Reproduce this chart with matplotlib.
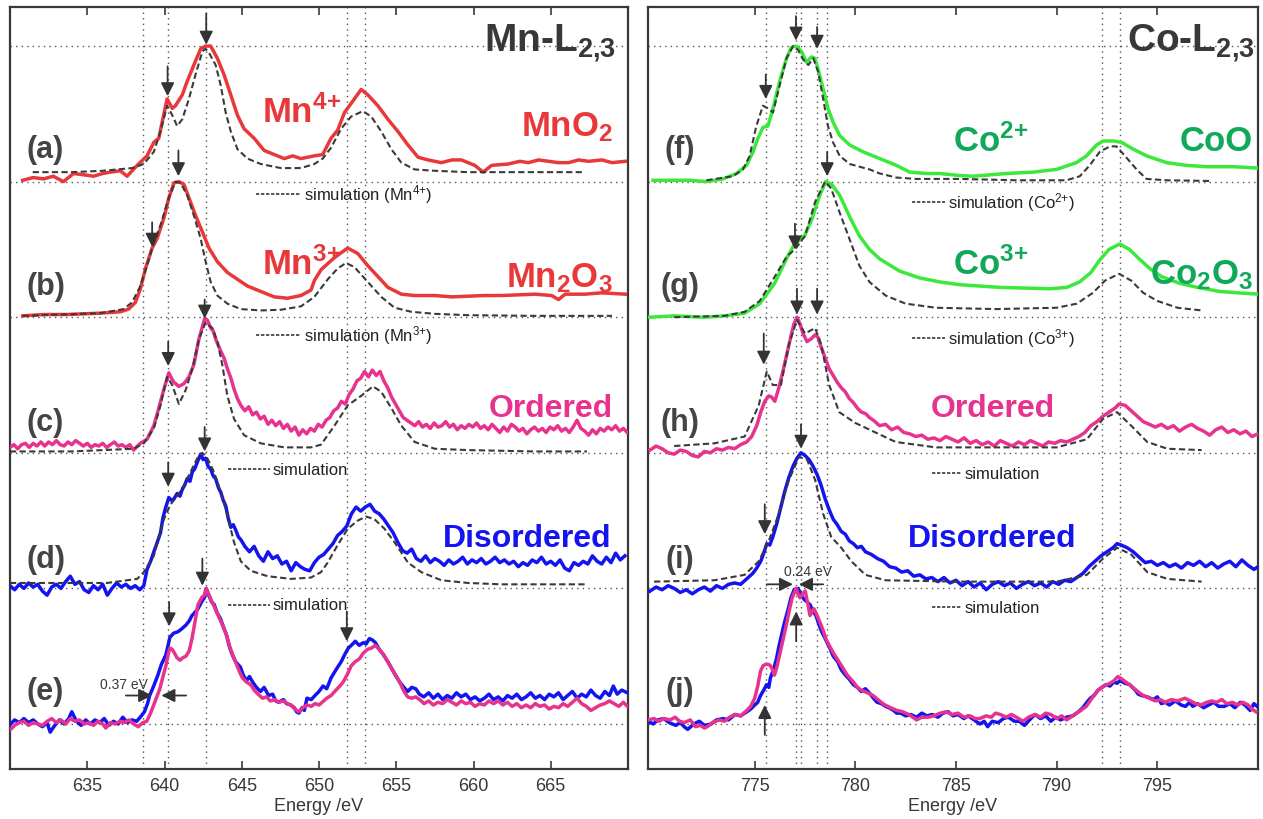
import numpy as np
import matplotlib.pyplot as plt

plt.rcParams['font.family'] = ['Liberation Sans', 'DejaVu Sans']
plt.rcParams['mathtext.fontset'] = 'custom'
plt.rcParams['mathtext.rm'] = 'Liberation Sans'
plt.rcParams['mathtext.bf'] = 'Liberation Sans:bold'
plt.rcParams['mathtext.it'] = 'Liberation Sans:italic'
plt.rcParams['mathtext.sf'] = 'Liberation Sans'

# ---------------- Mn L2,3 (left) ----------------
# (a) MnO2
mn_a_x = [630.82, 631.5, 632.17, 632.8, 633.46, 634.11, 634.8, 635.41, 636.0, 636.49, 637.14, 637.58,
          638.23, 638.87, 639.31, 639.63, 639.85, 640.17, 640.5, 640.71, 641.15, 641.47, 641.9, 642.34,
          642.66, 642.99, 643.42, 643.85, 644.29, 644.72, 645.15, 645.8, 646.45, 647.1, 647.75, 648.3,
          648.83, 649.7, 650.24, 650.78, 651.21, 651.65, 652.29, 652.73, 653.16, 653.81, 654.46, 655.11,
          655.76, 656.41, 657.06, 657.92, 658.6, 659.22, 660.08, 660.63, 661.17, 662.25, 663.0, 663.55,
          664.2, 664.85, 665.5, 666.15, 666.8, 667.45, 668.31, 668.96, 669.83]
mn_a_y = [0.01, 0.03, 0.02, 0.04, 0.0, 0.06, 0.05, 0.04, 0.06, 0.07, 0.08, 0.04,
          0.12, 0.19, 0.29, 0.32, 0.44, 0.61, 0.54, 0.56, 0.64, 0.74, 0.86, 0.98,
          1.0, 1.0, 0.91, 0.79, 0.64, 0.49, 0.39, 0.32, 0.23, 0.2, 0.17, 0.19,
          0.17, 0.19, 0.2, 0.32, 0.38, 0.51, 0.61, 0.68, 0.64, 0.56, 0.46, 0.37,
          0.27, 0.18, 0.16, 0.14, 0.16, 0.16, 0.12, 0.07, 0.12, 0.13, 0.15, 0.14,
          0.16, 0.15, 0.14, 0.14, 0.16, 0.15, 0.16, 0.14, 0.15]
mn_a_sim_x = [631.47, 634.0, 636.0, 637.9, 638.66, 639.31, 639.74, 640.17, 640.5, 640.82, 641.15,
              641.58, 642.01, 642.45, 642.66, 642.88, 643.31, 643.64, 643.96, 644.29, 644.72, 645.37,
              646.23, 647.53, 648.83, 649.7, 650.24, 650.78, 651.43, 652.08, 652.84, 653.38, 654.03,
              654.68, 655.33, 656.19, 657.49, 659.65, 661.82, 663.98, 667.01]
mn_a_sim_y = [0.07, 0.07, 0.08, 0.1, 0.13, 0.22, 0.37, 0.56, 0.49, 0.41, 0.46,
              0.61, 0.79, 0.96, 0.98, 0.95, 0.86, 0.71, 0.51, 0.37, 0.24, 0.17,
              0.13, 0.1, 0.1, 0.13, 0.17, 0.25, 0.39, 0.48, 0.52, 0.48, 0.37,
              0.24, 0.14, 0.09, 0.08, 0.07, 0.07, 0.07, 0.07]

# (b) Mn2O3
mn_b_x = [630.82, 632.2, 633.68, 635.84, 637.14, 637.68, 638.12, 638.44, 638.77, 639.2, 639.52, 639.96,
          640.28, 640.61, 640.93, 641.26, 641.58, 642.01, 642.45, 642.88, 643.42, 644.07, 644.72, 645.37,
          646.23, 647.1, 647.97, 648.83, 649.48, 649.7, 650.13, 651.0, 651.86, 652.51, 653.16, 653.81,
          654.46, 655.33, 656.19, 657.49, 658.6, 659.65, 660.7, 661.82, 662.9, 663.98, 665.06, 665.5,
          665.93, 667.23, 668.31, 669.83]
mn_b_y = [0.01, 0.02, 0.02, 0.03, 0.04, 0.06, 0.11, 0.21, 0.36, 0.51, 0.58, 0.73,
          0.88, 0.99, 1.0, 0.98, 0.88, 0.75, 0.63, 0.51, 0.41, 0.33, 0.28, 0.23,
          0.19, 0.15, 0.14, 0.16, 0.2, 0.27, 0.35, 0.44, 0.51, 0.47, 0.38, 0.3,
          0.22, 0.17, 0.16, 0.16, 0.15, 0.155, 0.16, 0.16, 0.165, 0.17, 0.16, 0.13,
          0.17, 0.17, 0.18, 0.17]
mn_b_sim_x = [630.82, 635.84, 637.36, 637.9, 638.44, 638.87, 639.2, 639.74, 640.28, 640.71, 641.04,
              641.47, 641.9, 642.34, 642.66, 642.99, 643.42, 644.07, 644.94, 646.23, 647.53, 648.83,
              649.7, 650.57, 651.21, 651.75, 652.29, 653.16, 654.03, 654.89, 655.98, 657.49, 659.65,
              663.98, 668.96]
mn_b_sim_y = [0.01, 0.03, 0.06, 0.11, 0.23, 0.38, 0.51, 0.68, 0.88, 1.0, 0.99,
              0.9, 0.75, 0.58, 0.41, 0.26, 0.16, 0.1, 0.06, 0.05, 0.055, 0.08,
              0.15, 0.28, 0.36, 0.4, 0.37, 0.26, 0.15, 0.07, 0.04, 0.025, 0.015,
              0.01, 0.01]

# (c) ordered (Mn)
mn_c_x = [630.0, 630.25, 630.5, 630.75, 631.0, 631.25, 631.5, 631.75, 632.0, 632.25, 632.5, 632.75,
          633.0, 633.25, 633.5, 633.75, 634.0, 634.25, 634.5, 634.75, 635.0, 635.25, 635.5, 635.75,
          636.0, 636.25, 636.5, 636.75, 637.0, 637.25, 637.5, 637.75, 638.0, 638.25,
          638.44, 638.87, 639.31, 639.63, 639.96, 640.28, 640.45, 640.61, 640.93, 641.26, 641.58, 641.9,
          642.23, 642.6, 642.77, 642.99, 643.15, 643.31, 643.64, 643.85, 644.07, 644.3, 644.5, 644.72,
          644.94, 645.2, 645.45, 645.7, 645.95, 646.2, 646.45, 646.7, 646.95, 647.2, 647.45, 647.7,
          647.95, 648.2, 648.45, 648.7, 648.95, 649.2, 649.45, 649.7, 649.95, 650.2, 650.45, 650.7,
          650.95, 651.2, 651.45, 651.7, 651.95, 652.2, 652.45, 652.7, 652.95, 653.2, 653.45, 653.7,
          653.95, 654.2, 654.45, 654.7, 654.95, 655.2, 655.45, 655.7, 655.95, 656.2, 656.45, 656.7,
          656.95, 657.2, 657.45, 657.7, 657.95, 658.2, 658.45, 658.7, 658.95, 659.2, 659.45, 659.7,
          659.95, 660.2, 660.45, 660.7, 660.95, 661.2, 661.45, 661.7, 661.95, 662.2, 662.45, 662.7,
          662.95, 663.2, 663.45, 663.7, 663.95, 664.2, 664.45, 664.7, 664.95, 665.2, 665.45, 665.7,
          665.95, 666.2, 666.45, 666.7, 666.95, 667.2, 667.45, 667.7, 667.95, 668.2, 668.45, 668.7,
          668.95, 669.2, 669.45, 669.7, 669.95]
mn_c_y = [0.04, 0.06, 0.03, 0.06, 0.07, 0.04, 0.07, 0.05, 0.08, 0.05, 0.08, 0.06,
          0.09, 0.06, 0.05, 0.08, 0.06, 0.09, 0.07, 0.05, 0.07, 0.04, 0.06, 0.05,
          0.07, 0.04, 0.06, 0.08, 0.05, 0.06, 0.04, 0.06, 0.02, 0.05,
          0.07, 0.1, 0.2, 0.33, 0.47, 0.59, 0.55, 0.52, 0.49, 0.51, 0.56, 0.65,
          0.84, 0.99, 0.98, 0.92, 0.9, 0.84, 0.75, 0.7, 0.62, 0.55, 0.47, 0.4,
          0.35, 0.31, 0.34, 0.28, 0.3, 0.25, 0.27, 0.21, 0.24, 0.2, 0.23, 0.18,
          0.21, 0.16, 0.19, 0.13, 0.17, 0.14, 0.18, 0.16, 0.21, 0.19, 0.24, 0.26,
          0.31, 0.33, 0.38, 0.36, 0.43, 0.47, 0.53, 0.55, 0.6, 0.56, 0.61, 0.57,
          0.6, 0.53, 0.48, 0.41, 0.36, 0.31, 0.26, 0.24, 0.22, 0.2, 0.23, 0.19,
          0.21, 0.18, 0.22, 0.19, 0.2, 0.23, 0.19, 0.21, 0.17, 0.2, 0.18, 0.21,
          0.19, 0.22, 0.18, 0.2, 0.17, 0.21, 0.18, 0.15, 0.19, 0.16, 0.21, 0.19,
          0.16, 0.18, 0.14, 0.17, 0.19, 0.16, 0.18, 0.15, 0.19, 0.17, 0.2, 0.16,
          0.18, 0.15, 0.19, 0.24, 0.18, 0.16, 0.13, 0.17, 0.14, 0.18, 0.16, 0.19,
          0.17, 0.2, 0.16, 0.18, 0.15]
mn_c_sim_x = [630.0, 634.0, 638.01, 638.66, 639.31, 639.74, 640.17, 640.5, 640.93, 641.36, 641.8,
              642.23, 642.66, 643.1, 643.42, 643.74, 644.07, 644.5, 645.15, 646.23, 647.75, 649.48,
              650.13, 651.0, 651.86, 652.73, 653.49, 654.03, 654.68, 655.33, 656.19, 657.49, 659.65,
              663.98, 667.34]
mn_c_sim_y = [0.01, 0.01, 0.03, 0.07, 0.18, 0.35, 0.56, 0.5, 0.36, 0.46, 0.62,
              0.84, 0.96, 0.92, 0.82, 0.65, 0.42, 0.25, 0.13, 0.07, 0.04, 0.04,
              0.06, 0.2, 0.35, 0.42, 0.49, 0.45, 0.33, 0.2, 0.08, 0.03, 0.02,
              0.01, 0.01]

# (d) disordered (Mn)
mn_d_x = [630.0, 630.3, 630.6, 630.9, 631.2, 631.5, 631.8, 632.1, 632.4, 632.7, 633.0, 633.3,
          633.6, 633.9, 634.2, 634.5, 634.8, 635.1, 635.4, 635.7, 636.0, 636.3, 636.6, 636.9,
          637.2, 637.5, 637.8, 638.1, 638.4, 638.66,
          638.87, 639.1, 639.31, 639.5, 639.74, 639.9, 640.06, 640.28, 640.45, 640.61, 640.82, 641.0,
          641.15, 641.3, 641.47, 641.65, 641.8, 641.95, 642.12, 642.34, 642.5, 642.66, 642.82, 642.99,
          643.15, 643.31, 643.5, 643.64, 643.8, 643.96, 644.12, 644.29, 644.45, 644.61, 644.78, 644.94,
          645.2, 645.5, 645.8, 646.1, 646.4, 646.7, 647.0, 647.3, 647.6, 647.9, 648.2, 648.5,
          648.8, 649.1, 649.4, 649.7, 650.0, 650.3, 650.6, 650.9, 651.2, 651.5, 651.8, 652.1,
          652.4, 652.7, 653.0, 653.3, 653.6, 653.9, 654.2, 654.5, 654.8, 655.1, 655.4, 655.7,
          656.0, 656.3, 656.6, 656.9, 657.2, 657.5, 657.8, 658.1, 658.4, 658.7, 659.0, 659.3,
          659.6, 659.9, 660.2, 660.5, 660.8, 661.1, 661.4, 661.7, 662.0, 662.3, 662.6, 662.9,
          663.2, 663.5, 663.8, 664.1, 664.4, 664.7, 665.0, 665.3, 665.6, 665.9, 666.2, 666.5,
          666.8, 667.1, 667.4, 667.7, 668.0, 668.3, 668.6, 668.9, 669.2, 669.5, 669.8]
mn_d_y = [0.02, -0.01, 0.03, 0.0, 0.04, 0.01, 0.03, -0.02, -0.05, 0.01, 0.03, 0.0,
          0.05, 0.09, 0.03, 0.05, -0.01, -0.03, 0.02, -0.01, 0.03, -0.05, 0.0, 0.04,
          0.01, 0.03, 0.0, 0.02, -0.01, 0.02,
          0.14, 0.2, 0.27, 0.33, 0.41, 0.52, 0.59, 0.67, 0.65, 0.66, 0.7, 0.68,
          0.73, 0.76, 0.81, 0.79, 0.86, 0.88, 0.93, 0.99, 0.95, 0.96, 0.9, 0.88,
          0.83, 0.81, 0.74, 0.71, 0.65, 0.61, 0.52, 0.45, 0.47, 0.43, 0.38, 0.36,
          0.31, 0.27, 0.31, 0.24, 0.2, 0.27, 0.22, 0.24, 0.18, 0.2, 0.13, 0.19,
          0.16, 0.14, 0.13, 0.19, 0.23, 0.25, 0.29, 0.33, 0.39, 0.42, 0.46, 0.55,
          0.6, 0.57, 0.6, 0.62, 0.57, 0.55, 0.51, 0.46, 0.41, 0.34, 0.28, 0.26,
          0.29, 0.22, 0.2, 0.24, 0.19, 0.22, 0.2, 0.17, 0.21, 0.18, 0.2, 0.23,
          0.18, 0.21, 0.19, 0.22, 0.18, 0.2, 0.23, 0.19, 0.21, 0.18, 0.2, 0.16,
          0.19, 0.17, 0.21, 0.19, 0.23, 0.18, 0.2, 0.17, 0.21, 0.15, 0.13, 0.19,
          0.17, 0.2, 0.18, 0.24, 0.2, 0.18, 0.23, 0.19, 0.26, 0.21, 0.24]
mn_d_sim_x = [630.0, 636.28, 638.23, 638.66, 639.31, 639.96, 640.39, 640.82, 641.26, 641.69, 642.12,
              642.45, 642.77, 643.2, 643.64, 644.07, 644.5, 644.94, 645.58, 646.67, 648.18, 649.48,
              650.13, 650.56, 651.21, 651.86, 652.51, 653.05, 653.59, 654.24, 654.89, 655.76, 656.62,
              657.92, 659.65, 661.82, 667.34]
mn_d_sim_y = [0.04, 0.04, 0.07, 0.12, 0.24, 0.51, 0.62, 0.68, 0.76, 0.86, 0.96,
              1.0, 0.96, 0.86, 0.71, 0.54, 0.34, 0.2, 0.13, 0.09, 0.07, 0.08,
              0.12, 0.19, 0.32, 0.44, 0.5, 0.53, 0.51, 0.44, 0.34, 0.19, 0.12,
              0.06, 0.04, 0.03, 0.03]

# (e) disordered vs ordered (Mn)
mn_e_dis_x = [630.04, 630.3, 630.6, 630.9, 631.2, 631.5, 631.8, 632.1, 632.4, 632.6, 632.9, 633.2,
              633.5, 633.8, 634.0, 634.3, 634.6, 634.9, 635.2, 635.5, 635.8, 636.1, 636.4, 636.7,
              637.0, 637.3, 637.6, 637.9, 638.2, 638.5, 638.7,
              638.9, 639.04, 639.3, 639.57, 639.8, 640.09, 640.35, 640.6, 640.87, 641.1, 641.39, 641.6,
              641.78, 641.95, 642.17, 642.4, 642.57, 642.7, 642.9, 643.05, 643.22, 643.4, 643.61, 643.8,
              644.0, 644.2, 644.39, 644.6, 644.75, 644.91, 645.1, 645.31, 645.5, 645.7, 645.95, 646.22,
              646.45, 646.74, 647.0, 647.2, 647.39, 647.7, 647.9, 648.17, 648.4, 648.55, 648.7, 648.9,
              649.05, 649.22, 649.5, 649.74, 650.0, 650.26, 650.5, 650.78, 651.1, 651.44, 651.7, 651.9,
              652.09, 652.35, 652.6, 652.87, 653.05, 653.26, 653.45, 653.65, 653.9, 654.18, 654.45, 654.7,
              654.95, 655.22, 655.5, 655.74, 656.0, 656.26, 656.5, 656.78,
              657.1, 657.4, 657.7, 658.0, 658.3, 658.6, 658.9, 659.2, 659.5, 659.8, 660.1, 660.4,
              660.7, 661.0, 661.3, 661.6, 661.9, 662.2, 662.5, 662.8, 663.1, 663.4, 663.7, 664.0,
              664.3, 664.6, 664.9, 665.2, 665.5, 665.8, 666.1, 666.4, 666.7, 667.0, 667.3, 667.6,
              667.9, 668.2, 668.5, 668.8, 669.05, 669.3, 669.6, 669.96]
mn_e_dis_y = [0.0, 0.03, 0.01, 0.04, 0.01, 0.03, 0.0, -0.02, 0.01, -0.06, -0.01, 0.03,
              0.0, 0.04, 0.09, 0.02, -0.01, 0.03, 0.0, 0.03, 0.01, 0.04, -0.01, 0.02,
              0.0, 0.05, 0.01, 0.03, 0.02, 0.06, 0.09,
              0.15, 0.21, 0.28, 0.36, 0.44, 0.51, 0.64, 0.67, 0.68, 0.7, 0.73, 0.76,
              0.8, 0.82, 0.85, 0.9, 0.93, 1.0, 0.94, 0.9, 0.88, 0.82, 0.78, 0.72,
              0.66, 0.57, 0.51, 0.46, 0.44, 0.42, 0.36, 0.32, 0.35, 0.31, 0.27, 0.24,
              0.27, 0.21, 0.22, 0.17, 0.16, 0.18, 0.15, 0.14, 0.12, 0.09, 0.08, 0.12,
              0.1, 0.19, 0.18, 0.21, 0.24, 0.28, 0.26, 0.34, 0.4, 0.46, 0.52, 0.56,
              0.58, 0.61, 0.58, 0.6, 0.59, 0.63, 0.62, 0.6, 0.55, 0.51, 0.46, 0.41,
              0.36, 0.31, 0.27, 0.24, 0.27, 0.26, 0.22, 0.2,
              0.23, 0.19, 0.22, 0.18, 0.21, 0.19, 0.23, 0.2, 0.22, 0.18, 0.2, 0.17,
              0.19, 0.22, 0.18, 0.2, 0.17, 0.21, 0.19, 0.22, 0.18, 0.2, 0.23, 0.19,
              0.21, 0.18, 0.22, 0.2, 0.23, 0.18, 0.21, 0.24, 0.19, 0.22, 0.2, 0.25,
              0.21, 0.19, 0.24, 0.21, 0.28, 0.22, 0.25, 0.23]
mn_e_ord_x = [630.04, 630.3, 630.6, 630.9, 631.2, 631.5, 631.8, 632.1, 632.4, 632.7, 633.0, 633.3,
              633.6, 633.9, 634.2, 634.5, 634.8, 635.1, 635.4, 635.7, 636.0, 636.2, 636.5, 636.8,
              637.1, 637.4, 637.7, 638.0, 638.3, 638.6, 638.85, 639.1,
              639.3, 639.5, 639.7, 639.9, 640.09, 640.25, 640.35, 640.5, 640.61, 640.8, 641.0, 641.2,
              641.39, 641.6, 641.78, 641.95, 642.17, 642.4, 642.57, 642.7, 642.85, 642.96, 643.2, 643.48,
              643.75, 644.0, 644.25, 644.52, 644.8, 645.04, 645.3, 645.57, 645.8, 646.05, 646.35, 646.6,
              646.85, 647.13, 647.4, 647.7, 647.95, 648.17, 648.45, 648.7, 648.95, 649.22, 649.5, 649.75,
              650.0, 650.3, 650.5, 650.78, 651.1, 651.35, 651.57, 651.85, 652.09, 652.35, 652.61, 652.85,
              653.13, 653.4, 653.65, 653.9, 654.18, 654.45, 654.7, 654.95, 655.22, 655.5, 655.74, 656.0,
              656.25, 656.52,
              656.8, 657.1, 657.4, 657.7, 658.0, 658.3, 658.6, 658.9, 659.2, 659.5, 659.8, 660.1,
              660.4, 660.7, 661.0, 661.3, 661.6, 661.9, 662.2, 662.5, 662.8, 663.1, 663.4, 663.7,
              664.0, 664.3, 664.6, 664.9, 665.2, 665.5, 665.8, 666.1, 666.4, 666.7, 667.0, 667.3,
              667.6, 667.9, 668.2, 668.5, 668.8, 669.1, 669.4, 669.7, 669.96]
mn_e_ord_y = [-0.04, -0.01, 0.01, 0.02, -0.01, 0.01, 0.0, -0.01, 0.02, 0.04, 0.01, 0.03,
              0.0, 0.04, 0.02, 0.03, 0.0, 0.01, -0.01, 0.02, 0.0, -0.03, 0.01, 0.0,
              0.02, 0.01, 0.03, 0.0, -0.02, 0.01, 0.02, 0.08,
              0.14, 0.2, 0.26, 0.35, 0.43, 0.52, 0.56, 0.55, 0.53, 0.49, 0.47, 0.49,
              0.5, 0.54, 0.63, 0.74, 0.88, 0.93, 0.95, 1.0, 0.96, 0.93, 0.87, 0.8,
              0.73, 0.66, 0.56, 0.48, 0.4, 0.34, 0.31, 0.29, 0.25, 0.22, 0.19, 0.2,
              0.17, 0.18, 0.16, 0.17, 0.15, 0.14, 0.11, 0.09, 0.12, 0.14, 0.13, 0.15,
              0.14, 0.17, 0.19, 0.21, 0.25, 0.28, 0.31, 0.37, 0.43, 0.46, 0.48, 0.52,
              0.55, 0.56, 0.58, 0.55, 0.51, 0.46, 0.41, 0.36, 0.31, 0.24, 0.2, 0.19,
              0.2, 0.18,
              0.15, 0.17, 0.14, 0.16, 0.15, 0.18, 0.16, 0.14, 0.17, 0.15, 0.16, 0.13,
              0.15, 0.14, 0.17, 0.15, 0.17, 0.14, 0.16, 0.13, 0.15, 0.12, 0.14, 0.12,
              0.15, 0.13, 0.14, 0.11, 0.13, 0.12, 0.15, 0.13, 0.16, 0.19, 0.15, 0.13,
              0.1, 0.12, 0.14, 0.15, 0.17, 0.15, 0.13, 0.16, 0.13]

# ---------------- Co L2,3 (right) ----------------
# (f) CoO
co_f_x = [769.95, 770.94, 771.77, 772.6, 773.43, 774.09, 774.59, 774.92, 775.16, 775.41, 775.66, 775.91,
          776.24, 776.58, 776.82, 777.07, 777.32, 777.57, 777.82, 777.98, 778.15, 778.39, 778.64, 778.89,
          779.22, 779.72, 780.38, 781.21, 782.04, 782.7, 783.53, 784.19, 785.18, 785.85, 787.5, 788.83,
          789.99, 790.98, 791.48, 791.98, 792.31, 792.81, 793.22, 793.8, 794.47, 795.46, 796.45, 797.45,
          798.77, 800.0]
co_f_y = [0.01, 0.01, 0.01, 0.0, 0.02, 0.06, 0.12, 0.22, 0.32, 0.4, 0.41, 0.54,
          0.74, 0.91, 0.99, 1.0, 0.96, 0.88, 0.92, 0.91, 0.83, 0.69, 0.54, 0.44,
          0.34, 0.27, 0.22, 0.17, 0.12, 0.07, 0.06, 0.06, 0.045, 0.04, 0.06, 0.07,
          0.09, 0.14, 0.19, 0.27, 0.3, 0.3, 0.29, 0.24, 0.19, 0.14, 0.12, 0.11,
          0.11, 0.1]
co_f_sim_x = [772.6, 773.92, 774.42, 774.75, 775.08, 775.41, 775.66, 775.91, 776.24, 776.58, 776.91,
              777.16, 777.41, 777.66, 777.91, 778.15, 778.39, 778.64, 778.89, 779.22, 779.72, 780.21,
              780.71, 781.21, 782.04, 783.03, 785.18, 788.0, 790.48, 791.15, 791.64, 792.14, 792.64,
              792.97, 793.39, 793.97, 794.46, 795.46, 797.61]
co_f_sim_y = [0.01, 0.04, 0.09, 0.19, 0.41, 0.56, 0.54, 0.51, 0.71, 0.91, 1.0,
              0.97, 0.9, 0.86, 0.91, 0.81, 0.62, 0.41, 0.29, 0.19, 0.13, 0.11,
              0.09, 0.06, 0.03, 0.02, 0.02, 0.01, 0.01, 0.04, 0.12, 0.22, 0.26,
              0.26, 0.19, 0.09, 0.02, 0.01, 0.005]

# (g) Co2O3
co_g_x = [769.78, 771.0, 772.5, 773.5, 774.5, 775.25, 775.99, 776.64, 776.99, 777.48, 777.83, 778.23,
          778.53, 778.82, 779.22, 779.72, 780.2, 780.7, 781.21, 782.2, 783.19, 784.2, 785.18, 787.17,
          789.65, 790.5, 791.14, 791.7, 792.13, 792.6, 793.13, 793.62, 794.1, 794.62, 795.2, 796.11,
          797.0, 798.1, 799.0, 800.0]
co_g_y = [0.0, 0.01, 0.0, 0.01, 0.03, 0.1, 0.25, 0.45, 0.54, 0.6, 0.72, 0.9,
          1.0, 0.98, 0.9, 0.74, 0.6, 0.5, 0.43, 0.34, 0.29, 0.26, 0.24, 0.22,
          0.21, 0.22, 0.26, 0.33, 0.42, 0.5, 0.54, 0.5, 0.43, 0.36, 0.3, 0.25,
          0.22, 0.19, 0.18, 0.17]
co_g_sim_x = [771.0, 773.5, 774.5, 775.25, 776.0, 776.6, 777.0, 777.5, 778.0, 778.5, 778.8, 779.2,
              779.7, 780.2, 780.7, 781.5, 782.5, 784.0, 787.0, 790.0, 791.0, 791.8, 792.4, 793.1,
              793.7, 794.3, 795.0, 796.0, 797.2]
co_g_sim_y = [0.0, 0.01, 0.04, 0.12, 0.3, 0.45, 0.5, 0.6, 0.85, 1.0, 0.95, 0.78,
              0.58, 0.38, 0.26, 0.16, 0.1, 0.07, 0.06, 0.07, 0.1, 0.18, 0.27, 0.32,
              0.27, 0.18, 0.12, 0.07, 0.05]

# (h) ordered (Co)
co_h_x = [769.8, 770.1, 770.4, 770.7, 771.0, 771.3, 771.6, 771.9, 772.2, 772.5, 772.8, 773.1,
          773.4, 773.7, 774.0, 774.3, 774.6, 774.85, 775.1, 775.3, 775.5, 775.7, 775.85, 776.0,
          776.2, 776.4, 776.6, 776.8, 776.95, 777.1, 777.25, 777.4, 777.6, 777.8, 778.0, 778.15,
          778.3, 778.5, 778.7, 778.9, 779.1, 779.3, 779.5, 779.7, 779.9, 780.1, 780.3, 780.5,
          780.7, 780.9, 781.2, 781.5, 781.8, 782.1, 782.4, 782.7, 783.0, 783.3, 783.6, 783.9,
          784.2, 784.5, 784.8, 785.1, 785.4, 785.7, 786.0, 786.3, 786.6, 786.9, 787.2, 787.5,
          787.8, 788.1, 788.4, 788.7, 789.0, 789.3, 789.6, 789.9, 790.2, 790.5, 790.8, 791.1,
          791.4, 791.7, 792.0, 792.3, 792.6, 792.9, 793.1, 793.4, 793.7, 794.0, 794.3, 794.6,
          794.9, 795.2, 795.5, 795.8, 796.1, 796.4, 796.7, 797.0, 797.3, 797.6, 797.9, 798.2,
          798.5, 798.8, 799.1, 799.4, 799.7, 800.0]
co_h_y = [0.02, 0.05, 0.03, 0.0, -0.01, 0.02, 0.01, -0.02, -0.03, 0.01, 0.0, 0.03,
          0.02, 0.04, 0.03, 0.06, 0.08, 0.12, 0.2, 0.3, 0.38, 0.42, 0.41, 0.38,
          0.48, 0.6, 0.73, 0.86, 0.95, 1.0, 0.95, 0.88, 0.82, 0.84, 0.87, 0.85,
          0.78, 0.7, 0.62, 0.57, 0.52, 0.48, 0.45, 0.4, 0.37, 0.33, 0.3, 0.29,
          0.26, 0.24, 0.2, 0.21, 0.17, 0.19, 0.15, 0.14, 0.12, 0.13, 0.1, 0.11,
          0.09, 0.12, 0.1, 0.08, 0.11, 0.07, 0.09, 0.06, 0.08, 0.05, 0.09, 0.07,
          0.05, 0.08, 0.06, 0.09, 0.07, 0.05, 0.08, 0.07, 0.09, 0.08, 0.1, 0.12,
          0.15, 0.2, 0.23, 0.27, 0.3, 0.33, 0.36, 0.35, 0.31, 0.27, 0.23, 0.21,
          0.19, 0.21, 0.18, 0.2, 0.16, 0.19, 0.21, 0.18, 0.16, 0.13, 0.17, 0.19,
          0.15, 0.17, 0.14, 0.16, 0.12, 0.14]
co_h_sim_x = [771.0, 773.0, 774.5, 775.2, 775.6, 775.9, 776.3, 776.7, 777.1, 777.5, 778.0, 778.3,
              778.7, 779.2, 780.0, 781.0, 782.0, 784.0, 790.0, 791.5, 792.3, 793.0, 793.7, 794.5,
              795.5, 797.2]
co_h_sim_y = [0.05, 0.07, 0.12, 0.35, 0.6, 0.5, 0.5, 0.8, 0.98, 0.88, 0.92, 0.8,
              0.5, 0.3, 0.22, 0.15, 0.08, 0.04, 0.04, 0.1, 0.25, 0.3, 0.2, 0.08,
              0.03, 0.02]

# (i) disordered (Co)
co_i_x = [769.8, 770.1, 770.4, 770.7, 771.0, 771.3, 771.6, 771.9, 772.2, 772.5, 772.8, 773.1,
          773.4, 773.7, 774.0, 774.3, 774.6, 774.9, 775.1, 775.3, 775.45, 775.6, 775.75, 775.9,
          776.1, 776.3, 776.5, 776.7, 776.9, 777.1, 777.3, 777.5, 777.7, 777.9, 778.1, 778.3,
          778.5, 778.7, 778.9, 779.1, 779.3, 779.5, 779.7, 779.9, 780.1, 780.3, 780.5, 780.8,
          781.1, 781.4, 781.7, 782.0, 782.3, 782.6, 782.9, 783.2, 783.5, 783.8, 784.1, 784.4,
          784.7, 785.0, 785.3, 785.6, 785.9, 786.2, 786.5, 786.8, 787.1, 787.4, 787.7, 788.0,
          788.3, 788.6, 788.9, 789.2, 789.5, 789.8, 790.1, 790.4, 790.7, 791.0, 791.3, 791.6,
          791.9, 792.2, 792.5, 792.8, 793.0, 793.2, 793.5, 793.8, 794.1, 794.4, 794.7, 795.0,
          795.3, 795.6, 795.9, 796.2, 796.5, 796.8, 797.1, 797.4, 797.7, 798.0, 798.3, 798.6,
          798.9, 799.2, 799.5, 799.8, 800.0]
co_i_y = [-0.02, 0.01, -0.01, 0.02, 0.0, -0.03, -0.01, -0.04, -0.01, 0.01, -0.02, 0.02,
          0.0, 0.03, 0.04, 0.03, 0.07, 0.11, 0.15, 0.2, 0.26, 0.33, 0.32, 0.38,
          0.48, 0.6, 0.72, 0.82, 0.9, 0.96, 1.0, 0.98, 0.95, 0.9, 0.84, 0.76,
          0.66, 0.58, 0.51, 0.47, 0.42, 0.4, 0.35, 0.33, 0.3, 0.31, 0.27, 0.25,
          0.22, 0.2, 0.16, 0.15, 0.12, 0.13, 0.09, 0.1, 0.07, 0.08, 0.05, 0.08,
          0.04, 0.06, 0.02, 0.05, 0.01, 0.04, -0.01, 0.03, 0.05, 0.02, 0.04, 0.0,
          0.03, 0.05, 0.02, 0.04, 0.01, 0.05, 0.03, 0.06, 0.05, 0.08, 0.11, 0.16,
          0.2, 0.24, 0.27, 0.3, 0.33, 0.32, 0.3, 0.27, 0.23, 0.19, 0.2, 0.17,
          0.19, 0.16, 0.18, 0.15, 0.19, 0.17, 0.2, 0.16, 0.19, 0.15, 0.18, 0.2,
          0.16, 0.21, 0.17, 0.14, 0.16]
co_i_sim_x = [770.0, 773.0, 774.5, 775.2, 775.7, 776.2, 776.7, 777.2, 777.6, 778.0, 778.4, 778.8,
              779.3, 779.8, 780.5, 781.5, 785.0, 790.0, 791.5, 792.3, 793.0, 793.7, 794.5, 795.5,
              797.2]
co_i_sim_y = [0.05, 0.06, 0.1, 0.2, 0.35, 0.55, 0.8, 0.97, 0.95, 0.8, 0.55, 0.38,
              0.3, 0.2, 0.1, 0.06, 0.05, 0.05, 0.1, 0.22, 0.3, 0.25, 0.12, 0.07,
              0.05]

# (j) disordered vs ordered (Co)
co_j_dis_x = [769.71, 769.95, 770.2, 770.49, 770.75, 771.08, 771.3, 771.5, 771.67, 771.9, 772.1, 772.25,
              772.5, 772.84, 773.1, 773.43, 773.7, 774.02, 774.3, 774.61, 774.8, 775.0, 775.15, 775.29,
              775.45, 775.59, 775.7, 775.78, 775.95, 776.08, 776.2, 776.37, 776.5, 776.67, 776.8, 776.96,
              777.16, 777.3, 777.45, 777.6, 777.75, 777.9, 778.04, 778.2, 778.33, 778.5, 778.73, 778.9,
              779.12, 779.3, 779.51, 779.7, 779.9, 780.1, 780.29, 780.5, 780.69, 780.9, 781.08, 781.3,
              781.5, 781.67, 781.9, 782.05, 782.25, 782.5, 782.75, 783.04, 783.3, 783.55, 783.82, 784.1,
              784.35, 784.61, 784.85, 785.1, 785.39, 785.6, 785.9, 786.18, 786.4, 786.57, 786.8, 787.1,
              787.35, 787.6, 787.9, 788.14, 788.4, 788.65, 788.92, 789.2, 789.45, 789.71, 789.95, 790.2,
              790.49, 790.8, 791.08, 791.3, 791.5, 791.67, 791.85, 792.06, 792.25, 792.45, 792.65, 792.84,
              793.0, 793.14, 793.4, 793.63, 793.9, 794.05, 794.22, 794.5, 794.8, 795.0, 795.2, 795.39,
              795.6, 795.9, 796.18, 796.4, 796.6, 796.76, 797.0, 797.3, 797.55, 797.8, 798.05, 798.33,
              798.6, 798.85, 799.12, 799.35, 799.61, 799.8, 799.95]
co_j_dis_y = [0.02, 0.0, 0.03, 0.04, 0.01, -0.01, 0.01, -0.02, -0.04, -0.01, 0.01, 0.02,
              -0.01, 0.0, 0.03, 0.04, 0.03, 0.07, 0.06, 0.09, 0.11, 0.14, 0.16, 0.21,
              0.25, 0.29, 0.27, 0.34, 0.41, 0.48, 0.57, 0.68, 0.76, 0.85, 0.93, 0.99,
              1.0, 0.95, 0.92, 0.9, 0.88, 0.83, 0.8, 0.73, 0.68, 0.63, 0.56, 0.5,
              0.46, 0.4, 0.36, 0.33, 0.29, 0.27, 0.24, 0.26, 0.23, 0.19, 0.16, 0.15,
              0.13, 0.12, 0.1, 0.08, 0.08, 0.06, 0.07, 0.05, 0.08, 0.06, 0.07, 0.05,
              0.08, 0.09, 0.06, 0.07, 0.04, 0.06, 0.03, 0.0, 0.02, -0.02, 0.02, 0.01,
              0.04, 0.05, 0.02, 0.02, -0.01, 0.03, 0.07, 0.04, 0.06, 0.02, 0.05, 0.03,
              0.05, 0.06, 0.09, 0.12, 0.16, 0.19, 0.21, 0.25, 0.27, 0.29, 0.28, 0.31,
              0.3, 0.32, 0.3, 0.29, 0.25, 0.22, 0.21, 0.2, 0.18, 0.2, 0.15, 0.16,
              0.14, 0.17, 0.14, 0.13, 0.16, 0.13, 0.15, 0.12, 0.14, 0.16, 0.13, 0.13,
              0.15, 0.12, 0.16, 0.14, 0.1, 0.15, 0.13]
co_j_ord_x = [769.71, 770.0, 770.25, 770.49, 770.8, 771.05, 771.27, 771.5, 771.8, 772.06, 772.3, 772.5,
              772.65, 772.9, 773.24, 773.5, 773.75, 774.02, 774.3, 774.61, 774.8, 775.0, 775.15, 775.29,
              775.42, 775.55, 775.68, 775.78, 775.88, 775.98, 776.1, 776.27, 776.42, 776.57, 776.72, 776.86,
              777.06, 777.15, 777.25, 777.38, 777.51, 777.62, 777.75, 777.85, 777.94, 778.1, 778.24, 778.4,
              778.53, 778.7, 778.92, 779.1, 779.31, 779.6, 779.9, 780.1, 780.29, 780.6, 780.88, 781.2,
              781.47, 781.75, 782.06, 782.35, 782.65, 782.85, 783.04, 783.3, 783.63, 783.9, 784.22, 784.5,
              784.8, 785.1, 785.39, 785.7, 785.95, 786.18, 786.5, 786.75, 786.96, 787.2, 787.5, 787.75,
              788.0, 788.33, 788.6, 788.92, 789.2, 789.45, 789.71, 790.0, 790.25, 790.49, 790.7, 790.88,
              791.2, 791.47, 791.75, 792.06, 792.35, 792.65, 792.85, 793.04, 793.25, 793.43, 793.7, 794.02,
              794.3, 794.61, 794.9, 795.15, 795.39, 795.7, 796.0, 796.37, 796.65, 796.9, 797.16, 797.45,
              797.7, 797.94, 798.2, 798.45, 798.73, 799.0, 799.25, 799.51, 799.7, 799.9]
co_j_ord_y = [0.03, 0.04, 0.02, 0.04, 0.03, 0.05, 0.02, 0.01, 0.03, -0.02, -0.01, -0.03,
              -0.02, 0.01, 0.03, 0.02, 0.05, 0.07, 0.06, 0.1, 0.13, 0.19, 0.28, 0.39,
              0.43, 0.44, 0.44, 0.43, 0.4, 0.36, 0.42, 0.53, 0.63, 0.73, 0.84, 0.93,
              1.0, 0.96, 0.93, 0.96, 0.98, 0.9, 0.8, 0.83, 0.85, 0.8, 0.75, 0.69,
              0.63, 0.58, 0.52, 0.48, 0.43, 0.36, 0.31, 0.27, 0.25, 0.23, 0.21, 0.17,
              0.14, 0.12, 0.1, 0.09, 0.07, 0.05, 0.03, 0.05, 0.05, 0.06, 0.08, 0.09,
              0.07, 0.08, 0.05, 0.06, 0.04, 0.04, 0.06, 0.05, 0.08, 0.07, 0.05, 0.07,
              0.05, 0.02, 0.05, 0.07, 0.05, 0.08, 0.07, 0.04, 0.06, 0.03, 0.05, 0.07,
              0.1, 0.13, 0.19, 0.25, 0.28, 0.3, 0.32, 0.35, 0.33, 0.31, 0.28, 0.24,
              0.21, 0.19, 0.17, 0.18, 0.16, 0.18, 0.17, 0.19, 0.17, 0.15, 0.14, 0.16,
              0.17, 0.16, 0.18, 0.15, 0.16, 0.14, 0.16, 0.14, 0.11, 0.09]

offsets = [4, 3, 2, 1, 0]
mn_ticks = [635, 640, 645, 650, 655, 660, 665]
co_ticks = [775, 780, 785, 790, 795]
mn_vlines = [638.6, 640.25, 642.7, 651.8, 652.95]
co_vlines = [775.55, 777.05, 777.3, 778.1, 778.6, 792.25, 793.15]

RED = '#e8383a'
PINK = '#e8338e'
BLUE = '#1414f0'
GREEN = '#3ce83c'
GREEN_TXT = '#12a85a'
DARK = '#383838'
SIM = dict(color='#3a3a3a', lw=1.5, ls=(0, (3, 1.6)), zorder=4)

fig = plt.figure(figsize=(12.63, 8.2), dpi=100)
axL = fig.add_axes([10 / 1263, 50 / 820, 618 / 1263, 762 / 820])
axR = fig.add_axes([648 / 1263, 50 / 820, 610 / 1263, 762 / 820])


def frame(ax, xlim, ticks, vlines):
    ax.set_xlim(*xlim)
    ax.set_ylim(-0.332, 5.288)
    ax.set_yticks([])
    ax.set_xticks(ticks)
    ax.tick_params(axis='x', direction='in', top=True, length=6, width=1.2,
                   labelsize=13, colors=DARK, pad=6)
    for s in ax.spines.values():
        s.set_color(DARK)
        s.set_linewidth(1.6)
    for k in range(6):
        ax.axhline(k, color='#555555', lw=1.0, ls=(0, (1, 3)), zorder=1)
    for v in vlines:
        ax.axvline(v, color='#555555', lw=1.0, ls=(0, (1, 3)), zorder=1)
    ax.set_xlabel('Energy /eV', fontsize=13, color=DARK, labelpad=2)


frame(axL, (630, 670), mn_ticks, mn_vlines)
frame(axR, (769.7, 800), co_ticks, co_vlines)

# spectra
exp_lw = 2.5
axL.plot(mn_a_sim_x, np.array(mn_a_sim_y) + offsets[0], **SIM)
axL.plot(mn_a_x, np.array(mn_a_y) + offsets[0], color=RED, lw=exp_lw, zorder=3)
axL.plot(mn_b_sim_x, np.array(mn_b_sim_y) + offsets[1], **SIM)
axL.plot(mn_b_x, np.array(mn_b_y) + offsets[1], color=RED, lw=exp_lw, zorder=3)
axL.plot(mn_c_x, np.array(mn_c_y) + offsets[2], color=PINK, lw=exp_lw, zorder=3)
axL.plot(mn_c_sim_x, np.array(mn_c_sim_y) + offsets[2], **SIM)
axL.plot(mn_d_x, np.array(mn_d_y) + offsets[3], color=BLUE, lw=exp_lw, zorder=3)
axL.plot(mn_d_sim_x, np.array(mn_d_sim_y) + offsets[3], **SIM)
axL.plot(mn_e_dis_x, np.array(mn_e_dis_y) + offsets[4], color=BLUE, lw=exp_lw, zorder=3)
axL.plot(mn_e_ord_x, np.array(mn_e_ord_y) + offsets[4], color=PINK, lw=exp_lw, zorder=3)

axR.plot(co_f_x, np.array(co_f_y) + offsets[0], color=GREEN, lw=exp_lw, zorder=3)
axR.plot(co_f_sim_x, np.array(co_f_sim_y) + offsets[0], **SIM)
axR.plot(co_g_x, np.array(co_g_y) + offsets[1], color=GREEN, lw=exp_lw, zorder=3)
axR.plot(co_g_sim_x, np.array(co_g_sim_y) + offsets[1], **SIM)
axR.plot(co_h_x, np.array(co_h_y) + offsets[2], color=PINK, lw=exp_lw, zorder=3)
axR.plot(co_h_sim_x, np.array(co_h_sim_y) + offsets[2], **SIM)
axR.plot(co_i_x, np.array(co_i_y) + offsets[3], color=BLUE, lw=exp_lw, zorder=3)
axR.plot(co_i_sim_x, np.array(co_i_sim_y) + offsets[3], **SIM)
axR.plot(co_j_dis_x, np.array(co_j_dis_y) + offsets[4], color=BLUE, lw=exp_lw, zorder=3)
axR.plot(co_j_ord_x, np.array(co_j_ord_y) + offsets[4], color=PINK, lw=exp_lw, zorder=3)


def arrow(ax, x0, y0, x1, y1):
    ax.annotate('', xy=(x1, y1), xytext=(x0, y0),
                arrowprops=dict(arrowstyle='-|>', color='#333333', lw=1.3,
                                mutation_scale=20, shrinkA=0, shrinkB=0), zorder=6)


# down arrows (Mn)
for x, y0, y1 in [(640.2, 4.85, 4.63), (642.7, 5.24, 5.01), (639.2, 3.70, 3.52), (640.9, 4.23, 4.04),
                  (642.6, 3.13, 2.99), (640.24, 2.82, 2.64), (642.6, 2.19, 2.01), (640.24, 1.93, 1.75),
                  (642.45, 1.22, 1.02), (640.3, 0.90, 0.72), (651.8, 0.83, 0.61)]:
    arrow(axL, x, y0, x, y1)
# down arrows (Co)
for x, y0, y1 in [(777.05, 5.22, 5.04), (778.1, 5.14, 4.98), (775.55, 4.79, 4.61), (778.6, 4.22, 4.04),
                  (777.0, 3.69, 3.50), (777.1, 3.21, 3.02), (778.1, 3.21, 3.02), (775.45, 2.88, 2.65),
                  (777.3, 2.21, 2.03), (775.5, 1.62, 1.40)]:
    arrow(axR, x, y0, x, y1)
# up arrows and shift markers
arrow(axR, 775.5, -0.08, 775.5, 0.14)
arrow(axR, 777.06, 0.61, 777.06, 0.83)
arrow(axR, 775.6, 1.03, 776.9, 1.03)
arrow(axR, 778.4, 1.03, 777.2, 1.03)
axR.text(777.65, 1.08, '0.24 eV', fontsize=10, color=DARK, ha='center', va='bottom')
arrow(axL, 637.5, 0.21, 639.2, 0.21)
arrow(axL, 641.4, 0.21, 639.8, 0.21)
axL.text(638.9, 0.24, '0.37 eV', fontsize=10, color=DARK, ha='right', va='bottom')

# panel letters
for ax, xs, letters in [(axL, 632.3, '(a)(b)(c)(d)(e)'), (axR, 771.3, '(f)(g)(h)(i)(j)')]:
    for k, y in enumerate([4.24, 3.23, 2.23, 1.22, 0.24]):
        ax.text(xs, y, letters[3 * k:3 * k + 3], fontsize=22, fontweight='bold',
                color='#444444', ha='center', va='center')

# titles
axL.text(669.2, 4.96, r'Mn-L$_{\mathbf{2}\mathbf{,}\mathbf{3}}$', fontsize=28, fontweight='bold',
         color=DARK, ha='right', va='baseline', zorder=5)
axR.text(799.85, 4.96, r'Co-L$_{\mathbf{2}\mathbf{,}\mathbf{3}}$', fontsize=28, fontweight='bold',
         color=DARK, ha='right', va='baseline', zorder=5)

# species labels
bold = dict(fontweight='bold', fontsize=25, va='baseline')
axL.text(646.3, 4.44, r'Mn$^{\mathbf{4}\mathbf{+}}$', color=RED, ha='left', **bold)
axL.text(669.0, 4.34, r'MnO$_{\mathbf{2}}$', color=RED, ha='right', **bold)
axL.text(646.3, 3.32, r'Mn$^{\mathbf{3}\mathbf{+}}$', color=RED, ha='left', **bold)
axL.text(669.0, 3.23, r'Mn$_{\mathbf{2}}$O$_{\mathbf{3}}$', color=RED, ha='right', **bold)
axL.text(669.0, 2.27, 'Ordered', color=PINK, ha='right', fontweight='bold', fontsize=23, va='baseline')
axL.text(668.9, 1.31, 'Disordered', color=BLUE, ha='right', fontweight='bold', fontsize=23, va='baseline')
axR.text(784.85, 4.23, r'Co$^{\mathbf{2}\mathbf{+}}$', color=GREEN_TXT, ha='left', **bold)
axR.text(799.75, 4.23, 'CoO', color=GREEN_TXT, ha='right', **bold)
axR.text(784.85, 3.32, r'Co$^{\mathbf{3}\mathbf{+}}$', color=GREEN_TXT, ha='left', **bold)
axR.text(799.75, 3.25, r'Co$_{\mathbf{2}}$O$_{\mathbf{3}}$', color=GREEN_TXT, ha='right', **bold)
axR.text(789.9, 2.27, 'Ordered', color=PINK, ha='right', fontweight='bold', fontsize=23, va='baseline')
axR.text(791.0, 1.31, 'Disordered', color=BLUE, ha='right', fontweight='bold', fontsize=23, va='baseline')

# simulation keys
for ax, x0, x1, y, label in [(axL, 645.9, 648.8, 3.91, r'simulation (Mn$^{4\mathrm{+}}$)'),
                             (axL, 645.9, 648.8, 2.87, r'simulation (Mn$^{3\mathrm{+}}$)'),
                             (axL, 644.1, 646.8, 1.88, 'simulation'),
                             (axL, 644.1, 646.8, 0.88, 'simulation'),
                             (axR, 782.8, 784.45, 3.85, r'simulation (Co$^{2\mathrm{+}}$)'),
                             (axR, 782.8, 784.45, 2.85, r'simulation (Co$^{3\mathrm{+}}$)'),
                             (axR, 783.8, 785.3, 1.85, 'simulation'),
                             (axR, 783.8, 785.3, 0.86, 'simulation')]:
    ax.plot([x0, x1], [y, y], color='#3a3a3a', lw=1.2, ls=(0, (2, 1)))
    ax.text(x1 + 0.2 * (1 if ax is axL else 0.75), y, label, fontsize=12, color='#222222',
            ha='left', va='center')

fig.savefig('out.png', dpi=100)
